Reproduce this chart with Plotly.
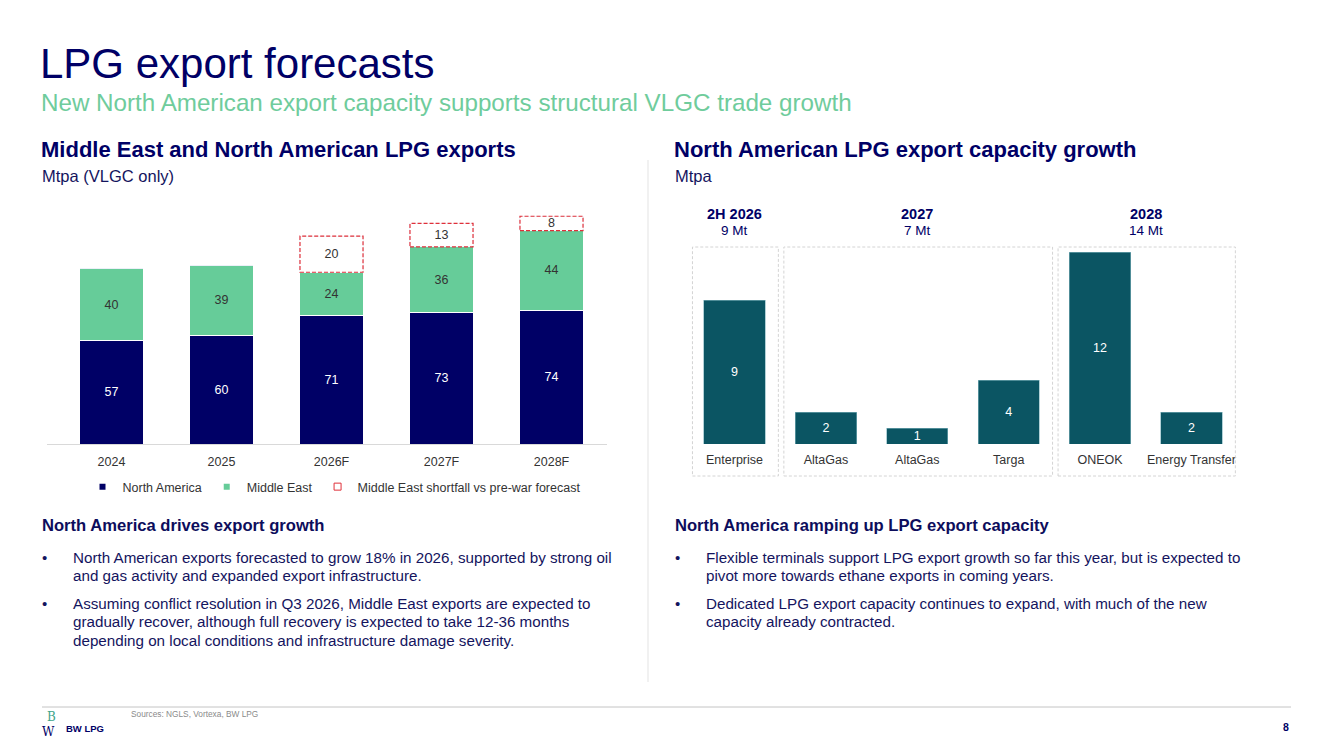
import plotly.graph_objects as go

W, H = 1333, 749
FONT = "Liberation Sans, Arial, sans-serif"
NAVY = "#000066"
GREEN = "#66cc99"
TEAL = "#0b5563"
RED = "#e0303a"
TXT = "#333333"
BODY = "#14145e"

# ---------------- data ----------------
years = ["2024", "2025", "2026F", "2027F", "2028F"]
north_america = [57, 60, 71, 73, 74]
middle_east = [40, 39, 24, 36, 44]
shortfall = [None, None, 20, 13, 8]

projects = ["Enterprise", "AltaGas", "AltaGas", "Targa", "ONEOK", "Energy Transfer"]
capacity = [9, 2, 1, 4, 12, 2]
project_group = [0, 1, 1, 1, 2, 2]
group_names = ["2H 2026", "2027", "2028"]
group_totals = ["9 Mt", "7 Mt", "14 Mt"]


def px(x):
    return x / W


def py(y):
    return 1 - y / H


fig = go.Figure()
xl = list(range(len(years)))
LBL = 12.5

fig.add_trace(go.Bar(
    x=xl, y=north_america, marker=dict(color=NAVY, line=dict(color="white", width=1)),
    text=[str(v) for v in north_america], textposition="inside", insidetextanchor="middle",
    textangle=0, textfont=dict(color="white", size=LBL, family=FONT), constraintext="none",
    showlegend=False, xaxis="x", yaxis="y", hoverinfo="skip"))
fig.add_trace(go.Bar(
    x=xl, y=middle_east, marker=dict(color=GREEN, line=dict(color="white", width=1)),
    text=[str(v) for v in middle_east], textposition="inside", insidetextanchor="middle",
    textangle=0, textfont=dict(color=TXT, size=LBL, family=FONT), constraintext="none",
    showlegend=False, xaxis="x", yaxis="y", hoverinfo="skip"))
# shortfall as invisible stacked bars carrying the labels
fig.add_trace(go.Bar(
    x=xl, y=[s if s else 0 for s in shortfall], marker=dict(color="rgba(0,0,0,0)"),
    text=[str(s) if s else "" for s in shortfall], textposition="inside", insidetextanchor="middle",
    textangle=0, textfont=dict(color=TXT, size=LBL, family=FONT), constraintext="none",
    showlegend=False, xaxis="x", yaxis="y", hoverinfo="skip"))

# legend entries
fig.add_trace(go.Scatter(x=[None], y=[None], mode="markers", name="North America",
                         marker=dict(symbol="square", size=6, color=NAVY), xaxis="x", yaxis="y"))
fig.add_trace(go.Scatter(x=[None], y=[None], mode="markers", name="Middle East",
                         marker=dict(symbol="square", size=6, color=GREEN), xaxis="x", yaxis="y"))
fig.add_trace(go.Scatter(x=[None], y=[None], mode="markers", name="Middle East shortfall vs pre-war forecast",
                         marker=dict(symbol="square-open", size=7, color=RED, line=dict(width=1)),
                         xaxis="x", yaxis="y"))

BW = 0.573
shapes = []
for i, s in enumerate(shortfall):
    if s:
        base = north_america[i] + middle_east[i]
        shapes.append(dict(type="rect", xref="x", yref="y", x0=i - BW / 2, x1=i + BW / 2,
                           y0=base, y1=base + s, line=dict(color=RED, width=1.2, dash="4px,2px"),
                           fillcolor="rgba(0,0,0,0)"))

# right chart
xr = list(range(len(projects)))
fig.add_trace(go.Bar(
    x=xr, y=capacity, marker=dict(color=TEAL, line=dict(color="#7fb3bd", width=0.6)),
    text=[str(v) for v in capacity], textposition="inside", insidetextanchor="middle",
    textangle=0, textfont=dict(color="white", size=LBL, family=FONT), constraintext="none",
    showlegend=False, xaxis="x2", yaxis="y2", hoverinfo="skip", width=0.67))

annotations = []
for g, name in enumerate(group_names):
    members = [i for i, pg in enumerate(project_group) if pg == g]
    lo, hi = min(members), max(members)
    shapes.append(dict(type="rect", xref="x2", yref="paper", x0=lo - 0.46, x1=hi + 0.48,
                       y0=py(476), y1=py(247), line=dict(color="#d4d4d4", width=1, dash="3px,2px")))
    cx = (lo + hi) / 2
    annotations.append(dict(x=cx, y=py(214), xref="x2", yref="paper", text="<b>%s</b>" % name,
                            showarrow=False, font=dict(size=14.5, color=NAVY, family=FONT),
                            xanchor="center", yanchor="middle"))
    annotations.append(dict(x=cx, y=py(231), xref="x2", yref="paper", text=group_totals[g],
                            showarrow=False, font=dict(size=13.5, color=NAVY, family=FONT),
                            xanchor="center", yanchor="middle"))

# dividers
shapes.append(dict(type="line", xref="paper", yref="paper", x0=px(648), x1=px(648),
                   y0=py(160), y1=py(682), line=dict(color="#e3e3e3", width=1)))
shapes.append(dict(type="line", xref="paper", yref="paper", x0=px(42), x1=px(1291),
                   y0=py(707), y1=py(707), line=dict(color="#c4c4c4", width=1)))


def txt(x, y, t, size, color, bold=False, xanchor="left", family=FONT):
    annotations.append(dict(x=px(x), y=py(y), xref="paper", yref="paper",
                            text=("<b>%s</b>" % t) if bold else t, showarrow=False,
                            font=dict(size=size, color=color, family=family),
                            xanchor=xanchor, yanchor="middle", align="left"))


txt(38, 63, "LPG export forecasts", 42, NAVY)
txt(39, 103, "New North American export capacity supports structural VLGC trade growth", 24.2, "#6fcc9c")
txt(39, 150, "Middle East and North American LPG exports", 22, NAVY, bold=True)
txt(40, 176, "Mtpa (VLGC only)", 16.5, BODY)
txt(672, 150, "North American LPG export capacity growth", 22, NAVY, bold=True)
txt(673, 176, "Mtpa", 16.5, BODY)

txt(40, 525, "North America drives export growth", 16.6, "#0d0d5c", bold=True)
left_lines = [(557, "North American exports forecasted to grow 18% in 2026, supported by strong oil", True),
              (575, "and gas activity and expanded export infrastructure.", False),
              (603, "Assuming conflict resolution in Q3 2026, Middle East exports are expected to", True),
              (621, "gradually recover, although full recovery is expected to take 12-36 months", False),
              (640, "depending on local conditions and infrastructure damage severity.", False)]
for y, t, b in left_lines:
    if b:
        txt(40, y, "•", 15, BODY)
    txt(71, y, t, 15.2, BODY)

txt(673, 525, "North America ramping up LPG export capacity", 16.6, "#0d0d5c", bold=True)
right_lines = [(557, "Flexible terminals support LPG export growth so far this year, but is expected to", True),
               (575, "pivot more towards ethane exports in coming years.", False),
               (603, "Dedicated LPG export capacity continues to expand, with much of the new", True),
               (621, "capacity already contracted.", False)]
for y, t, b in right_lines:
    if b:
        txt(673, y, "•", 15, BODY)
    txt(704, y, t, 15.2, BODY)

txt(129, 714, "Sources: NGLS, Vortexa, BW LPG", 8.3, "#8a8a8a")
txt(1291, 727, "8", 10.5, NAVY, bold=True, xanchor="right")
# logo
txt(45, 717, "B", 12, "#3fa58a", family="DejaVu Serif")
txt(40, 732, "W", 12, NAVY, family="DejaVu Serif")
txt(64, 728, "BW LPG", 9.5, NAVY, bold=True)

fig.update_layout(
    width=W, height=H, autosize=False,
    margin=dict(l=0, r=0, t=0, b=0),
    paper_bgcolor="white", plot_bgcolor="white",
    barmode="stack", bargap=0.427,
    font=dict(family=FONT, color=TXT),
    xaxis=dict(domain=[px(46.6), px(606.5)], range=[-0.59, 4.5], tickvals=xl, ticktext=years,
               showgrid=False, zeroline=False, showline=True, linecolor="#d9d9d9", linewidth=1,
               ticks="", ticklabelstandoff=6, tickfont=dict(size=12.5, color=TXT), fixedrange=True),
    yaxis=dict(domain=[py(444), py(209)], range=[0, 130], visible=False, fixedrange=True),
    xaxis2=dict(domain=[px(688.8), px(1237.2)], range=[-0.5, 5.5], tickvals=xr, ticktext=projects,
                showgrid=False, zeroline=False, showline=False, ticks="", ticklabelstandoff=6,
                tickfont=dict(size=12.5, color=TXT), fixedrange=True),
    yaxis2=dict(domain=[py(444), py(244)], range=[0, 12.5], visible=False, fixedrange=True),
    legend=dict(orientation="h", x=px(334), xanchor="center", y=py(487), yanchor="middle",
                font=dict(size=12.5, color=TXT), itemwidth=30, traceorder="normal"),
    shapes=shapes, annotations=annotations,
)

fig.write_html("out.html", config={"displayModeBar": False},
               post_script="document.body.style.margin='0';document.body.style.overflow='hidden';")
